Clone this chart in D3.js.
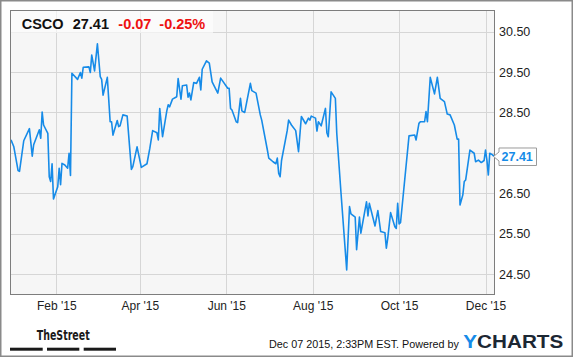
<!DOCTYPE html>
<html><head><meta charset="utf-8">
<script src="https://cdn.jsdelivr.net/npm/d3@7"></script>
<style>html,body{margin:0;padding:0;background:#fff;}svg{display:block;font-family:"Liberation Sans",Arial,sans-serif;}</style>
</head><body>
<svg id="chart" width="575" height="358"></svg>
<script>
const dates = ["2014-12-31","2015-01-02","2015-01-05","2015-01-06","2015-01-09","2015-01-13","2015-01-15","2015-01-16","2015-01-20","2015-01-21","2015-01-22","2015-01-23","2015-01-26","2015-01-27","2015-01-28","2015-01-29","2015-01-30","2015-02-02","2015-02-03","2015-02-04","2015-02-05","2015-02-07","2015-02-09","2015-02-10","2015-02-11","2015-02-12","2015-02-16","2015-02-18","2015-02-19","2015-02-20","2015-02-24","2015-02-25","2015-02-26","2015-02-28","2015-03-02","2015-03-04","2015-03-05","2015-03-06","2015-03-09","2015-03-11","2015-03-12","2015-03-13","2015-03-16","2015-03-17","2015-03-18","2015-03-20","2015-03-23","2015-03-26","2015-03-27","2015-03-30","2015-04-02","2015-04-06","2015-04-08","2015-04-10","2015-04-13","2015-04-14","2015-04-15","2015-04-17","2015-04-20","2015-04-21","2015-04-22","2015-04-24","2015-04-27","2015-04-28","2015-04-30","2015-05-01","2015-05-04","2015-05-05","2015-05-06","2015-05-07","2015-05-09","2015-05-11","2015-05-13","2015-05-14","2015-05-15","2015-05-18","2015-05-20","2015-05-22","2015-05-26","2015-05-28","2015-05-29","2015-06-02","2015-06-03","2015-06-04","2015-06-05","2015-06-08","2015-06-09","2015-06-11","2015-06-12","2015-06-14","2015-06-18","2015-06-19","2015-06-22","2015-06-25","2015-06-26","2015-06-30","2015-07-01","2015-07-04","2015-07-06","2015-07-07","2015-07-08","2015-07-09","2015-07-10","2015-07-14","2015-07-15","2015-07-17","2015-07-20","2015-07-22","2015-07-24","2015-07-27","2015-07-29","2015-07-30","2015-07-31","2015-08-03","2015-08-04","2015-08-05","2015-08-07","2015-08-10","2015-08-11","2015-08-12","2015-08-14","2015-08-17","2015-08-18","2015-08-21","2015-08-25","2015-08-27","2015-08-28","2015-08-31","2015-09-01","2015-09-03","2015-09-04","2015-09-08","2015-09-09","2015-09-10","2015-09-14","2015-09-16","2015-09-18","2015-09-21","2015-09-22","2015-09-23","2015-09-25","2015-09-28","2015-09-29","2015-09-30","2015-10-01","2015-10-02","2015-10-08","2015-10-12","2015-10-13","2015-10-15","2015-10-16","2015-10-19","2015-10-20","2015-10-21","2015-10-23","2015-10-26","2015-10-28","2015-10-30","2015-11-02","2015-11-04","2015-11-06","2015-11-09","2015-11-11","2015-11-12","2015-11-13","2015-11-15","2015-11-16","2015-11-17","2015-11-20","2015-11-23","2015-11-24","2015-11-26","2015-11-28","2015-11-30","2015-12-01","2015-12-02","2015-12-03","2015-12-04","2015-12-06","2015-12-07"];
const prices = [27.82,27.65,27.06,27.04,27.80,28.10,27.42,27.70,28.07,27.86,28.51,28.19,27.98,26.91,26.79,27.23,26.36,26.66,27.12,26.71,27.24,27.20,27.12,27.49,26.94,29.47,29.32,29.49,29.35,29.62,29.63,29.49,29.92,29.53,30.20,29.39,29.32,28.93,29.37,28.27,28.27,27.94,28.30,28.15,28.17,28.44,28.41,27.09,27.16,27.65,27.14,27.23,27.61,28.05,28.00,27.82,28.60,27.90,28.54,28.69,28.64,28.83,28.89,29.34,28.83,29.16,29.18,28.88,28.98,28.81,29.24,29.22,29.37,29.06,29.57,29.78,29.72,29.26,28.98,29.35,29.30,29.10,29.10,28.60,28.56,28.27,28.25,28.85,28.54,28.50,29.22,29.04,28.98,28.44,28.31,27.57,27.37,27.28,27.23,27.37,26.99,26.91,27.31,28.05,28.31,28.19,28.05,27.53,28.40,28.22,28.36,28.31,28.41,28.36,28.04,28.27,28.17,28.60,28.00,27.90,29.01,28.85,27.98,26.50,24.60,26.17,25.99,25.91,25.10,25.91,25.51,26.29,25.94,26.25,25.69,26.07,25.55,25.52,25.14,25.39,26.02,25.67,25.63,26.25,25.74,25.77,27.92,27.94,27.82,28.23,28.27,28.27,28.52,28.27,29.37,28.96,29.37,28.85,28.77,28.46,28.44,28.19,27.84,27.84,26.21,26.46,26.79,26.83,27.57,27.49,27.28,27.32,27.26,27.31,27.57,27.32,26.95,27.49,27.45,27.41];
const yTicks = [24.5, 25.5, 26.5, 27.5, 28.5, 29.5, 30.5];
const xTickDates = ["2015-02-01","2015-04-01","2015-06-01","2015-08-01","2015-10-01","2015-12-01"];
const xTickLabels = ["Feb '15","Apr '15","Jun '15","Aug '15","Oct '15","Dec '15"];
const ticker = "CSCO";
const lastPrice = "27.41";
const change = "-0.07";
const changePct = "-0.25%";
const footerText = "Dec 07 2015, 2:33PM EST.  Powered by";

const parse = d3.timeParse("%Y-%m-%d");
const data = dates.map((d, i) => ({date: parse(d), value: prices[i]}));

const svg = d3.select("#chart");
const L = 10.5, R = 494.5, T = 10.5, B = 294.5;

const x = d3.scaleTime().domain([parse("2014-12-31"), parse("2015-12-07")]).range([11, 494]);
const y = d3.scaleLinear().domain([24.5, 30.5]).range([274, 31.7]);

const lp = +lastPrice, ly = y(lp);

// outer frame
svg.append("rect").attr("x", 0.75).attr("y", 0.75).attr("width", 571.5).attr("height", 355.5)
  .attr("fill", "#fff").attr("stroke", "#8a8a8a").attr("stroke-width", 1.5);

// plot bg
svg.append("rect").attr("x", L).attr("y", T).attr("width", R - L).attr("height", B - T).attr("fill", "#f6f6f6");

// grid
const grid = svg.append("g");
grid.selectAll("line.h").data(yTicks).enter().append("line")
  .attr("x1", L).attr("x2", R).attr("y1", d => Math.round(y(d)) + 0.5).attr("y2", d => Math.round(y(d)) + 0.5)
  .attr("stroke", "#d6d6d6").attr("stroke-width", 1);
grid.selectAll("line.v").data(xTickDates).enter().append("line")
  .attr("y1", T).attr("y2", B).attr("x1", d => Math.round(x(parse(d))) + 0.5).attr("x2", d => Math.round(x(parse(d))) + 0.5)
  .attr("stroke", "#d6d6d6").attr("stroke-width", 1);

// line
svg.append("clipPath").attr("id", "clip").append("rect").attr("x", L).attr("y", T).attr("width", R - L).attr("height", B - T);
svg.append("path").datum(data).attr("clip-path", "url(#clip)")
  .attr("d", d3.line().x(d => x(d.date)).y(d => y(d.value)))
  .attr("fill", "none").attr("stroke", "#168be8").attr("stroke-width", 1.6).attr("stroke-linejoin", "round");

// plot border
svg.append("rect").attr("x", L).attr("y", T).attr("width", R - L).attr("height", B - T)
  .attr("fill", "none").attr("stroke", "#7d7d7d").attr("stroke-width", 1);

// y axis labels (the one hidden behind the last-price tag is omitted, as in the reference)
const shownYTicks = yTicks.filter(t => Math.abs(y(t) - ly) > 12);
const yAxis = d3.axisRight(y).tickValues(shownYTicks).tickFormat(d3.format(".2f")).tickSize(0).tickPadding(5);
const ya = svg.append("g").attr("transform", `translate(${R - 0.5},0)`).call(yAxis);
ya.select(".domain").remove();
ya.selectAll("text").attr("font-size", 12.5).attr("fill", "#222").attr("font-family", "Liberation Sans, Arial, sans-serif");

// x axis labels
const xAxis = d3.axisBottom(x).tickValues(xTickDates.map(parse)).tickFormat((d, i) => xTickLabels[i]).tickSize(0).tickPadding(6);
const xa = svg.append("g").attr("transform", `translate(0,${B + 0.5})`).call(xAxis);
xa.select(".domain").remove();
xa.selectAll("text").attr("font-size", 12).attr("fill", "#222").attr("font-family", "Liberation Sans, Arial, sans-serif");

// header box
svg.append("rect").attr("x", 11).attr("y", 11).attr("width", 202).attr("height", 22).attr("fill", "#fff").attr("fill-opacity", 0.6);
const hdr = svg.append("g").attr("font-weight", "bold").attr("font-size", 14.5);
hdr.append("text").attr("x", 21.7).attr("y", 29).attr("fill", "#111").text(ticker);
hdr.append("text").attr("x", 72.7).attr("y", 29).attr("fill", "#111").text(lastPrice);
hdr.append("text").attr("x", 118.3).attr("y", 29).attr("fill", "#ee1111").text(change);
hdr.append("text").attr("x", 159.3).attr("y", 29).attr("fill", "#ee1111").text(changePct);

// last price tag
const tag = svg.append("g");
tag.append("path")
  .attr("d", `M${R - 1},${ly} L499,${ly - 4.5} L499,${ly - 8.5} L536.5,${ly - 8.5} L536.5,${ly + 9} L499,${ly + 9} L499,${ly + 4.5} Z`)
  .attr("fill", "#fff").attr("stroke", "#9a9a9a").attr("stroke-width", 1);
tag.append("text").attr("x", 501.5).attr("y", ly + 5).attr("font-size", 12.5).attr("font-weight", "bold")
  .attr("fill", "#168be8").text(lastPrice);

// footer: TheStreet logo
svg.append("text").attr("x", 36.7).attr("y", 340).attr("font-size", 14.5).attr("font-weight", "bold")
  .attr("font-family", "Liberation Sans Narrow, DejaVu Sans Condensed, sans-serif")
  .attr("textLength", 53).attr("lengthAdjust", "spacingAndGlyphs").attr("fill", "#1a1a1a").text("TheStreet");
[[10, 42.7], [47, 79.3], [83.7, 116]].forEach(([a, b]) => {
  svg.append("rect").attr("x", a).attr("y", 347.7).attr("width", b - a).attr("height", 3).attr("fill", "#1a1a1a");
});

// footer text
svg.append("text").attr("x", 269).attr("y", 348).attr("font-size", 11).attr("fill", "#111")
  .attr("textLength", 190).attr("lengthAdjust", "spacingAndGlyphs").text(footerText);

// YCHARTS logo
const yc = svg.append("text").attr("x", 463.3).attr("y", 348.3).attr("font-size", 18.5).attr("font-weight", "bold")
  .attr("textLength", 100).attr("lengthAdjust", "spacingAndGlyphs");
yc.append("tspan").attr("fill", "#168be8").text("Y");
yc.append("tspan").attr("fill", "#1c2733").text("CHARTS");
</script>
</body></html>
